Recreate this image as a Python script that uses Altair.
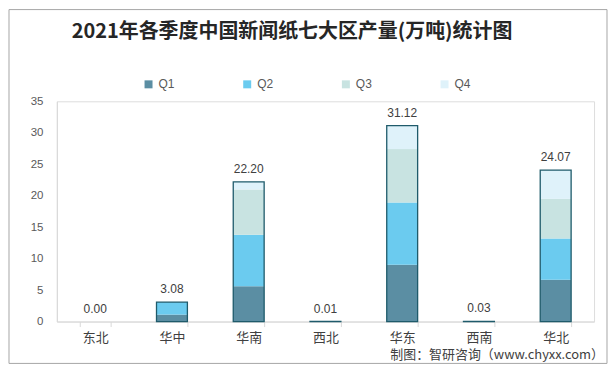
import altair as alt
import pandas as pd

regions = ["东北", "华中", "华南", "西北", "华东", "西南", "华北"]
quarters = ["Q1", "Q2", "Q3", "Q4"]
q1 = [0.00, 1.10, 5.60, 0.01, 9.03, 0.03, 6.65]
q2 = [0.00, 1.98, 8.20, 0.00, 9.87, 0.00, 6.55]
q3 = [0.00, 0.00, 7.20, 0.00, 8.50, 0.00, 6.30]
q4 = [0.00, 0.00, 1.20, 0.00, 3.72, 0.00, 4.57]
totals = [0.00, 3.08, 22.20, 0.01, 31.12, 0.03, 24.07]
colors = ["#5b8ea3", "#6bcbef", "#c8e3e1", "#dff2fa"]

title_text = "2021年各季度中国新闻纸七大区产量(万吨)统计图"
source_text = "制图：智研咨询（www.chyxx.com）"

rows = []
for qi, (q, vals) in enumerate(zip(quarters, [q1, q2, q3, q4])):
    for r, v in zip(regions, vals):
        rows.append({"region": r, "quarter": q, "order": qi, "value": v})
df = pd.DataFrame(rows)
tot = pd.DataFrame({"region": regions, "total": totals})

FONT = "Noto Sans CJK SC"
W, H = 539, 221

x_axis = alt.Axis(labelAngle=0, domainColor="#d9d9d9", tickColor="#d9d9d9",
                  tickBand="extent", tickSize=5, labelFontSize=13,
                  labelColor="#404040", labelPadding=5, labelFont=FONT)
x_scale = alt.Scale(paddingInner=0.6, paddingOuter=0.3)
y_scale = alt.Scale(domain=[0, 35], nice=False)
y_axis = alt.Axis(values=[0, 5, 10, 15, 20, 25, 30, 35], grid=False, ticks=False,
                  domain=True, domainColor="#d9d9d9", labelFontSize=11.5,
                  labelColor="#595959", labelPadding=14, labelFont="Liberation Sans",
                  labelOverlap=False)

def X():
    return alt.X("region:N", sort=regions, title=None, scale=x_scale, axis=x_axis)

border = alt.Chart(pd.DataFrame({"a": [0]})).mark_rect(
    fill=None, stroke="#a6a6a6", strokeWidth=1
).encode(x=alt.value(-48), x2=alt.value(552), y=alt.value(-92), y2=alt.value(263))

title = alt.Chart(pd.DataFrame({"t": [title_text]})).mark_text(
    align="center", baseline="middle", fontSize=20, font=FONT, fontWeight="bold",
    color="#262626"
).encode(x=alt.value(236), y=alt.value(-69), text="t:N")

bars = alt.Chart(df).mark_bar(size=31).encode(
    x=X(),
    y=alt.Y("value:Q", stack="zero", scale=y_scale, axis=y_axis, title=None),
    color=alt.Color("quarter:N", scale=alt.Scale(domain=quarters, range=colors),
                    legend=alt.Legend(title=None, orient="none", direction="horizontal",
                                      legendX=86, legendY=-23, symbolType="square",
                                      symbolSize=64, symbolStrokeWidth=0,
                                      labelFontSize=12, labelColor="#595959",
                                      labelFont="Liberation Sans", columnPadding=66,
                                      labelOffset=4)),
    order=alt.Order("order:Q", sort="ascending"),
)

outline = alt.Chart(tot).transform_filter("datum.total > 0").mark_bar(
    size=31, fillOpacity=0, stroke="#1f5b6b", strokeWidth=1.3).encode(
    x=X(),
    y=alt.Y("total:Q", scale=y_scale, axis=y_axis, title=None),
)

labels = alt.Chart(tot).mark_text(baseline="bottom", dy=-6, fontSize=12,
                                  color="#404040", font="Liberation Sans").encode(
    x=X(),
    y=alt.Y("total:Q", scale=y_scale, axis=y_axis, title=None),
    text=alt.Text("total:Q", format=".2f"),
)

source = alt.Chart(pd.DataFrame({"t": [source_text]})).mark_text(
    align="right", baseline="middle", fontSize=13, color="#404040", font=FONT
).encode(x=alt.value(549), y=alt.value(255), text="t:N")

chart = alt.layer(border, title, bars, outline, labels, source).properties(
    width=W, height=H,
    autosize=alt.AutoSizeParams(type="none"),
    padding={"left": 49, "top": 93, "right": 14, "bottom": 43},
).configure_view(stroke=None).configure(background="white")

chart.save("out.html", embed_options={"renderer": "svg", "actions": False})
